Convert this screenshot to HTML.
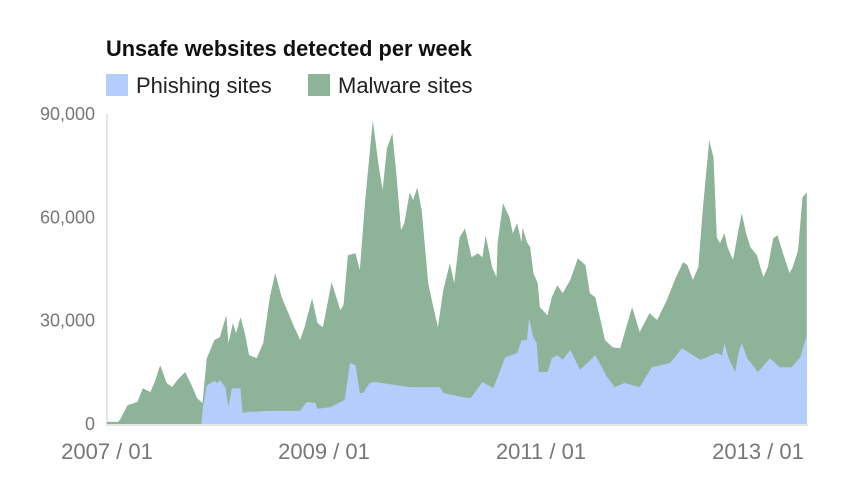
<!DOCTYPE html>
<html><head><meta charset="utf-8"><style>
body{margin:0;background:#fff;font-family:"Liberation Sans",sans-serif}
svg{display:block}
</style></head><body>
<svg id="chart" width="848" height="488">
<text x="106" y="56" font-size="21.8" font-weight="bold" fill="#111">Unsafe websites detected per week</text>
<g><rect x="106" y="74" width="22" height="22" fill="#b3cdfd"/><text x="136" y="93" font-size="22" fill="#222">Phishing sites</text></g>
<g><rect x="308" y="74" width="22" height="22" fill="#8db398"/><text x="338" y="93" font-size="22" fill="#222">Malware sites</text></g>
<g id="yaxis"></g>
<g id="xaxis"></g>
<g id="plot"></g>
</svg>
<script>
const totalDates=[2007.00,2007.10,2007.12,2007.19,2007.28,2007.33,2007.40,2007.44,2007.49,2007.55,2007.60,2007.65,2007.72,2007.78,2007.83,2007.88,2007.92,2007.99,2008.04,2008.10,2008.12,2008.16,2008.19,2008.23,2008.27,2008.31,2008.38,2008.44,2008.50,2008.55,2008.61,2008.66,2008.71,2008.78,2008.82,2008.89,2008.94,2008.99,2009.07,2009.15,2009.18,2009.22,2009.29,2009.33,2009.38,2009.45,2009.50,2009.54,2009.58,2009.63,2009.67,2009.71,2009.74,2009.79,2009.82,2009.86,2009.90,2009.96,2010.00,2010.05,2010.10,2010.16,2010.20,2010.25,2010.30,2010.36,2010.42,2010.46,2010.49,2010.55,2010.59,2010.60,2010.65,2010.71,2010.74,2010.78,2010.82,2010.83,2010.87,2010.90,2010.93,2010.97,2010.99,2011.06,2011.10,2011.15,2011.20,2011.27,2011.34,2011.41,2011.45,2011.50,2011.59,2011.66,2011.73,2011.84,2011.91,2012.00,2012.07,2012.16,2012.24,2012.31,2012.35,2012.40,2012.45,2012.49,2012.55,2012.59,2012.62,2012.65,2012.69,2012.72,2012.77,2012.82,2012.85,2012.89,2012.93,2012.99,2013.05,2013.09,2013.14,2013.18,2013.23,2013.29,2013.32,2013.37,2013.41,2013.45];
const totalValues=[600,600,1200,5500,6400,10400,9300,12200,17100,11900,10700,12800,15100,11300,7500,6100,19100,24400,25200,31600,23500,29300,26400,31000,26400,20000,19100,23500,36800,43800,36800,33100,29300,24400,28100,36500,29300,28100,41200,33100,34500,49000,49600,44700,65000,88200,75700,67900,80000,84400,71600,56300,58300,67300,65000,68700,62100,40900,35100,28100,38900,46700,40900,54200,56800,48400,49600,48400,54800,45500,42600,52500,64100,60000,55400,58300,52800,57100,52800,51300,43800,40900,33900,31600,36800,40300,38000,41800,48100,46100,38000,36800,24400,22300,22000,33900,26700,32200,30200,36000,42300,47000,46100,41800,45500,62100,82400,77400,54200,52500,55400,51300,47600,56300,61200,55400,51300,49000,42600,45500,53900,54800,49600,43800,45500,50500,65800,67300];
const phishDates=[2007.00,2007.87,2007.88,2007.92,2007.99,2008.02,2008.04,2008.09,2008.12,2008.15,2008.23,2008.25,2008.30,2008.50,2008.78,2008.84,2008.92,2008.94,2009.06,2009.19,2009.24,2009.29,2009.33,2009.36,2009.42,2009.47,2009.79,2010.07,2010.10,2010.28,2010.35,2010.46,2010.56,2010.67,2010.78,2010.82,2010.87,2010.89,2010.93,2010.96,2010.98,2011.06,2011.10,2011.15,2011.20,2011.27,2011.36,2011.50,2011.61,2011.68,2011.77,2011.91,2012.02,2012.19,2012.30,2012.47,2012.62,2012.67,2012.69,2012.73,2012.79,2012.82,2012.85,2012.90,2013.00,2013.11,2013.20,2013.31,2013.39,2013.45];
const phishValues=[0,0,4100,11300,12500,11900,12800,10700,4900,10400,10400,3200,3500,3800,3800,6400,6100,4400,4900,7000,17700,17100,9000,9000,11900,12200,10700,10700,9000,7800,7500,12200,10400,19400,20600,24400,24400,30700,25200,23500,15100,15100,19100,20000,18600,21500,15700,20000,13600,10700,11900,10700,16500,17700,22000,18600,20600,20000,23500,19100,15100,20600,23500,19100,15100,19100,16500,16500,19400,25800];
const yTicks=[0,30000,60000,90000];
const yTickLabels=["0","30,000","60,000","90,000"];
const xTicks=[2007,2009,2011,2013];
const xTickLabels=["2007 / 01","2009 / 01","2011 / 01","2013 / 01"];

const NS="http://www.w3.org/2000/svg";
const X0=107,PXY=108.5,Y0=424,H=310,YMAX=90000;
const xs=d=>X0+(d-2007)*PXY;
const ys=v=>Y0-v/YMAX*H;
function mk(t,a,p){const e=document.createElementNS(NS,t);for(const k in a)e.setAttribute(k,a[k]);p.appendChild(e);return e;}
const yax=document.getElementById('yaxis'),xax=document.getElementById('xaxis'),plot=document.getElementById('plot');
mk('line',{x1:107,y1:114,x2:107,y2:425,stroke:'#e6e6e6','stroke-width':2},yax);
yTicks.forEach((t,i)=>{const e=mk('text',{x:95,y:ys(t)+6,'text-anchor':'end','font-size':18,fill:'#777'},yax);e.textContent=yTickLabels[i];

});
xTicks.forEach((t,i)=>{const e=mk('text',{x:xs(t),y:459,'text-anchor':'middle','font-size':22,fill:'#777'},xax);e.textContent=xTickLabels[i];

});
function area(dates,vals,color,name){
 let d='M'+xs(dates[0])+','+Y0;
 dates.forEach((t,i)=>{d+=' L'+xs(t).toFixed(1)+','+ys(vals[i]).toFixed(1);});
 d+=' L'+xs(dates[dates.length-1])+','+Y0+' Z';
 const p=mk('path',{d:d,fill:color},plot);
 
 
}
area(totalDates,totalValues,'#8db398','malware-area');
area(phishDates,phishValues,'#b3cdfd','phishing-area');
mk('line',{x1:106,y1:425,x2:808,y2:425,stroke:'#e6e6e6','stroke-width':2},plot);
</script>
</body></html>
